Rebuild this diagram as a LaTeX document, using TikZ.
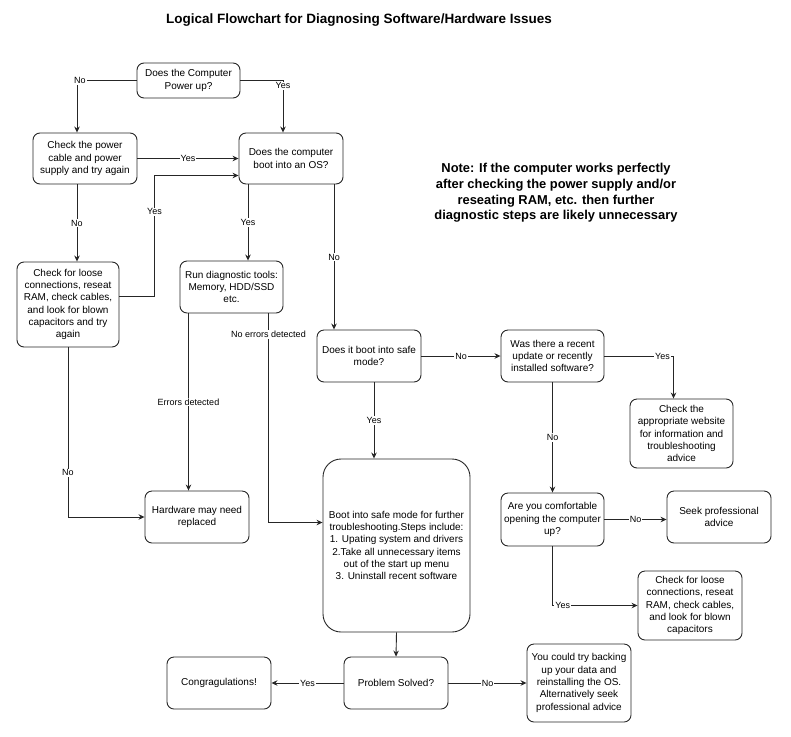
\documentclass[tikz,border=0pt]{standalone}
\usepackage{fontspec}
\setmainfont{Liberation Sans}
\usetikzlibrary{arrows.meta}

\begin{document}
\begin{tikzpicture}[x=1pt, y=-1pt,
		box/.style={draw=black!85, line width=0.9pt, rounded corners=7pt, align=center, minimum width=104pt, minimum height=52pt, inner sep=1pt, font=\fontsize{10}{12.3}\selectfont},
		arr/.style={draw=black!85, line width=0.9pt, -{Stealth[length=6pt,width=5.5pt]}},
		lbl/.style={fill=white, inner sep=1pt, font=\fontsize{9}{10}\selectfont}]
				\useasboundingbox (0,0) rectangle (791,736);
				
				\node[font=\bfseries\fontsize{13.5}{16}\selectfont] (title) at (359,20) {Logical Flowchart for Diagnosing Software/Hardware Issues};
				\node[align=center, font=\bfseries\fontsize{12.9}{15.6}\selectfont] (note) at (556,193) {Note: If the computer works perfectly\\after checking the power supply and/or\\reseating RAM, etc. then further\\diagnostic steps are likely unnecessary};
				
				\node[box, minimum width=103pt, minimum height=35pt] (power) at (188.5,80.5) {Does the Computer\\Power up?};
				\node[box, minimum height=51pt] (cable) at (85,158.5) {Check the power\\cable and power\\supply and try again};
				\node[box, minimum height=51pt] (bootos) at (291,158.5) {Does the computer\\boot into an OS?};
				\node[box, minimum width=102pt, minimum height=85pt] (reseat) at (68,304.5) {Check for loose\\connections, reseat\\RAM, check cables,\\and look for blown\\capacitors and try\\again};
				\node[box, minimum width=103pt] (diag) at (231.5,287) {Run diagnostic tools:\\Memory, HDD/SSD\\etc.};
				\node[box] (safe) at (369,356) {Does it boot into safe\\mode?};
				\node[box, minimum width=103pt] (update) at (552.5,356) {Was there a recent\\update or recently\\installed software?};
				\node[box, minimum width=103pt, minimum height=69pt] (website) at (681.5,433.5) {Check the\\appropriate website\\for information and\\troubleshooting\\advice};
				\node[box] (hardware) at (197,517) {Hardware may need\\replaced};
				\node[box, minimum width=147pt, minimum height=173pt, rounded corners=18pt] (steps) at (396.5,545.5) {Boot into safe mode for further\\troubleshooting.Steps include:\\1. Upating system and drivers\\2.Take all unnecessary items\\out of the start up menu\\3. Uninstall recent software};
				\node[box, minimum width=103pt, minimum height=53pt] (comfort) at (552.5,519.5) {Are you comfortable\\opening the computer\\up?};
				\node[box] (seek) at (719,517) {Seek professional\\advice};
				\node[box, minimum height=69pt] (loose) at (690,605.5) {Check for loose\\connections, reseat\\RAM, check cables,\\and look for blown\\capacitors};
				\node[box] (solved) at (396,683) {Problem Solved?};
				\node[box, minimum height=78pt] (backup) at (579,683) {You could try backing\\up your data and\\reinstalling the OS.\\Alternatively seek\\professional advice};
				\node[box] (congrats) at (219,683) {Congragulations!};
				
				\draw[arr] (power.west) -| node[lbl, pos=0.5, xshift=3pt]{No} ([xshift=-8pt]cable.north);
				\draw[arr] (power.east) -| node[lbl, pos=0.55]{Yes} ([xshift=-8pt]bootos.north);
				\draw[arr] (cable.east) -- node[lbl]{Yes} (bootos.west);
				\draw[arr] ([xshift=-8pt]cable.south) -- node[lbl]{No} ([xshift=-8pt]cable.south |- reseat.north);
				\draw[arr] ([yshift=8pt]reseat.east) -- ++(35,0) |- node[lbl, pos=0.35]{Yes} ([yshift=-17pt]bootos.west);
				
				\draw[arr] ([xshift=-43pt]bootos.south) -- node[lbl]{Yes} ([xshift=-43pt]bootos.south |- diag.north);
				\draw[arr] ([xshift=43pt]bootos.south) -- node[lbl]{No} ([xshift=43pt]bootos.south |- safe.north);
				\draw[arr] ([xshift=-43pt]diag.south) -- node[lbl]{Errors detected} ([xshift=-43pt]diag.south |- hardware.north);
				\draw[arr] ([xshift=37pt]diag.south) |- node[lbl, pos=0.05]{No errors detected} ([yshift=23pt]steps.west);
				\draw[arr] (reseat.south) |- node[lbl, pos=0.37]{No} (hardware.west);
				
				\draw[arr] ([xshift=5pt]safe.south) -- node[lbl]{Yes} ([xshift=5pt]safe.south |- steps.north);
				\draw[arr] (safe.east) -- node[lbl]{No} (update.west);
				\draw[arr] (update.east) -| node[lbl, pos=0.42]{Yes} ([xshift=-8pt]website.north);
				\draw[arr] (update.south) -- node[lbl]{No} (comfort.north);
				\draw[arr] (comfort.east) -- node[lbl]{No} (comfort.east -| seek.west);
				\draw[arr] (comfort.south) |- node[lbl, pos=0.56]{Yes} (loose.west);
				
				\draw[arr] (steps.south) -- (solved.north);
				\draw[arr] (solved.west) -- node[lbl]{Yes} (congrats.east);
				\draw[arr] (solved.east) -- node[lbl]{No} (backup.west);
			\end{tikzpicture}
\end{document}
